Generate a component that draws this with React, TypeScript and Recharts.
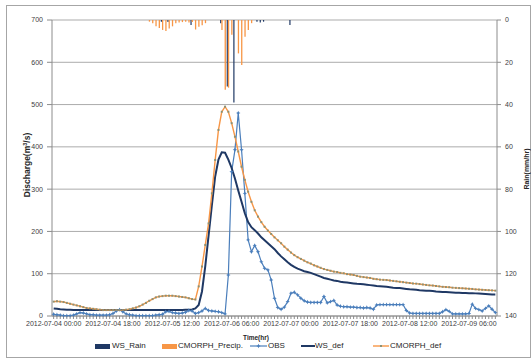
import React from 'react';
import { ComposedChart, Bar, Line, XAxis, YAxis, CartesianGrid } from 'recharts';

const font = '"Liberation Sans", Arial, sans-serif';

// one label every 18 hours, first hour is 2012-07-04 00:00
const tickLabels = [
  '2012-07-04 00:00', '2012-07-04 18:00', '2012-07-05 12:00', '2012-07-06 06:00',
  '2012-07-07 00:00', '2012-07-07 18:00', '2012-07-08 12:00', '2012-07-09 06:00',
];

// hourly series, rows of 18 hours
const obs = [
  4, 3, 2, 1, 1, 1, 2, 5, 8, 7, 5, 3, 3, 2, 2, 2, 2, 3,
  6, 12, 15, 10, 5, 3, 2, 1, 1, 1, 1, 1, 1, 2, 3, 4, 10, 11,
  8, 7, 6, 7, 9, 13, 12, 6, 8, 12, 18, 13, 12, 11, 10, 8, 5, 97,
  341, 393, 480, 393, 290, 180, 152, 167, 152, 128, 113, 109, 85, 42, 20, 16, 21, 34,
  54, 56, 50, 42, 36, 33, 32, 32, 32, 32, 46, 31, 34, 37, 26, 23, 22, 22,
  21, 21, 20, 20, 19, 20, 19, 16, 26, 27, 27, 27, 27, 27, 27, 27, 27, 13,
  7, 6, 6, 6, 6, 6, 6, 6, 6, 6, 10, 15, 11, 5, 5, 5, 5, 5,
  6, 28, 18, 15, 12, 18, 24, 16, 8,
];

const wsDef = [
  18, 17, 16, 15.5, 15, 14.5, 14, 14, 14, 14, 14, 14, 14, 14, 14, 14, 14, 14,
  14, 14, 14, 14, 14, 14, 14, 14, 14, 14, 14, 14, 14, 14, 14, 14, 14, 14,
  14, 14, 14, 14, 14.5, 15, 15.5, 18, 26, 58, 118, 190, 262, 330, 370, 387, 386, 370,
  350, 325, 297, 270, 243, 222, 210, 203, 195, 186, 179, 172, 165, 158, 149, 141, 134, 127,
  121, 116, 112, 109, 106, 104, 102, 99, 96, 93, 90, 88, 86, 84, 83, 81, 80, 79,
  78, 77, 76, 75.5, 75, 74, 73, 72, 71, 70.5, 70, 69, 68, 67, 66.5, 66, 65, 64,
  63, 62.5, 62, 61, 60.5, 60, 59.5, 59, 58, 57.5, 57, 56.5, 56, 55.5, 55, 55, 54.5, 54.5,
  54, 54, 53.5, 53, 52.5, 52, 51.5, 51, 51,
];

const cmorphDef = [
  34, 35, 34, 33, 31, 29, 27, 25, 23, 21, 19, 18, 17, 16, 15, 14, 14, 14,
  14, 14, 14, 14, 15, 16, 18, 20, 23, 27, 31, 36, 40, 44, 46, 47, 48, 48,
  48, 47, 46, 45, 44, 42, 40, 39, 70, 117, 168, 219, 290, 369, 440, 483, 495, 483,
  456, 424, 389, 353, 322, 294, 270, 250, 235, 222, 211, 202, 194, 186, 179, 172, 164, 157,
  150, 144, 139, 135, 131, 127, 124, 120, 117, 114, 111, 109, 107, 105, 104, 102, 101, 99,
  98, 97, 95, 93, 92, 91, 90, 88, 87, 86, 85.5, 85, 84, 83, 82, 81, 80, 79,
  78, 77, 76.5, 75.5, 74.5, 73.5, 72.5, 72, 71, 70, 69, 68.5, 68, 67, 66.5, 66, 65.5, 65,
  64.5, 64, 63, 62.5, 62, 61.5, 61, 60.5, 60,
];

// rain (mm/hr), right axis
const wsRain = [
  0, 0, 0, 0, 0, 0, 0, 0, 0, 0, 0, 0, 0, 0, 0, 0, 0, 0,
  0, 0, 0, 0, 0, 0, 0, 0, 0, 0, 0, 0, 0, 0, 0, 0.8, 0, 1,
  0, 0, 0, 0, 0, 0, 2.4, 0, 0, 0, 0, 0, 0, 0, 0, 1.5, 0, 31.5,
  0, 39, 0, 0, 0, 0, 0, 0, 0.8, 1.2, 0.8, 0, 0, 0, 0, 0, 0, 0,
  2.4, 0, 0, 0, 0, 0, 0, 0, 0, 0, 0, 0, 0, 0, 0, 0, 0, 0,
  0, 0, 0, 0, 0, 0, 0, 0, 0, 0, 0, 0, 0, 0, 0, 0, 0, 0,
  0, 0, 0, 0, 0, 0, 0, 0, 0, 0, 0, 0, 0, 0, 0, 0, 0, 0,
  0, 0, 0, 0, 0, 0, 0, 0, 0,
];

const cmorphRain = [
  0, 0, 0, 0, 0, 0, 0, 0, 0, 0, 0, 0, 0, 0, 0, 0, 0, 0,
  0, 0, 0, 0, 0, 0, 0, 0, 0, 0, 0, 0.8, 1.5, 3, 3.8, 4.7, 5.2, 4,
  3, 1.5, 1.2, 1, 0.8, 1.2, 1, 4.5, 3.2, 2.5, 1.5, 0, 0, 0, 0, 4.7, 33, 32,
  7, 0, 15.8, 21.3, 7.9, 4.7, 1.5, 0, 0, 0, 0, 0, 0, 0, 0, 0, 0, 0,
  0, 0, 0, 0, 0, 0, 0, 0, 0, 0, 0, 0, 0, 0, 0, 0, 0, 0,
  0, 0, 0, 0, 0, 0, 0, 0, 0, 0, 0, 0, 0, 0, 0, 0, 0, 0,
  0, 0, 0, 0, 0, 0, 0, 0, 0, 0, 0, 0, 0, 0, 0, 0, 0, 0,
  0, 0, 0, 0, 0, 0, 0, 0, 0,
];

const qTicks = [0, 100, 200, 300, 400, 500, 600, 700];
const rainTicks = [0, 20, 40, 60, 80, 100, 120, 140];

const data = obs.map((v, i) => ({
  hour: i,
  wsRain: wsRain[i],
  cmorphRain: cmorphRain[i],
  obs: v,
  wsDef: wsDef[i],
  cmorphDef: cmorphDef[i],
}));

const colors = {
  navy: '#1F3864',
  orange: '#F79646',
  blue: '#4A7EBB',
  marker: '#8E9172',
  axis: '#8C8C8C',
  grid: '#ABABAB',
  text: '#404040',
};

const TimeTick = (props: any) => {
  const { x, y, index } = props;
  if (index % 18 !== 0) return <g />;
  return (
    <text x={x} y={y} dy={5} textAnchor="middle" fontSize={7} fill={colors.text} fontFamily={font}>
      {tickLabels[index / 18]}
    </text>
  );
};

const starPath = (cx: number, cy: number, r: number) =>
  `M${cx},${cy - r}L${cx + 0.7},${cy - 0.7}L${cx + r},${cy}L${cx + 0.7},${cy + 0.7}` +
  `L${cx},${cy + r}L${cx - 0.7},${cy + 0.7}L${cx - r},${cy}L${cx - 0.7},${cy - 0.7}Z`;

const obsDot = (p: any) => {
  const { cx, cy, index } = p;
  if (cx == null || cy == null) return <g key={index} />;
  return <path key={index} d={starPath(cx, cy, 2.2)} fill={colors.blue} />;
};

const cmorphDot = (p: any) => {
  const { cx, cy, index } = p;
  if (cx == null || cy == null) return <g key={index} />;
  return <rect key={index} x={cx - 1} y={cy - 1} width={2} height={2} fill={colors.marker} />;
};

const legendText: React.CSSProperties = {
  position: 'absolute', top: 341, fontSize: 8, color: '#262626', fontFamily: font, lineHeight: '10px',
};

export default function App() {
  return (
    <div style={{ position: 'absolute', left: 0, top: 0, width: 531, height: 358, background: '#fff' }}>
      <div style={{ position: 'absolute', left: 6, top: 5, width: 523, height: 351, border: '1px solid #A6A6A6' }} />
      <div style={{ position: 'absolute', left: 0, top: 0 }}>
        <ComposedChart width={531} height={358} data={data} margin={{ top: 20, right: 0, bottom: 0, left: 0 }} barGap={0} barCategoryGap={0}>
          <CartesianGrid yAxisId="q" vertical={false} stroke={colors.grid} />
          <XAxis
            dataKey="hour"
            height={42}
            interval={0}
            tickSize={3}
            tickLine={{ stroke: colors.axis }}
            axisLine={{ stroke: colors.axis }}
            tick={<TimeTick />}
          />
          <YAxis
            yAxisId="q"
            width={52}
            domain={[0, 700]}
            ticks={qTicks}
            tickSize={5}
            tickMargin={4}
            tickLine={{ stroke: colors.axis }}
            axisLine={{ stroke: colors.axis }}
            tick={{ fontSize: 7, fill: colors.text, fontFamily: font }}
          />
          <YAxis
            yAxisId="rain"
            orientation="right"
            width={34}
            reversed
            domain={[0, 140]}
            ticks={rainTicks}
            tickSize={4}
            tickMargin={4}
            tickLine={{ stroke: colors.axis }}
            axisLine={{ stroke: colors.axis }}
            tick={{ fontSize: 7, fill: colors.text, fontFamily: font }}
          />
          <Bar yAxisId="rain" dataKey="wsRain" fill={colors.navy} barSize={1.2} isAnimationActive={false} />
          <Bar yAxisId="rain" dataKey="cmorphRain" fill={colors.orange} barSize={1.3} isAnimationActive={false} />
          <Line yAxisId="q" dataKey="obs" stroke={colors.blue} strokeWidth={1.2} dot={obsDot} activeDot={false} isAnimationActive={false} />
          <Line yAxisId="q" dataKey="wsDef" stroke={colors.navy} strokeWidth={2} dot={false} activeDot={false} isAnimationActive={false} />
          <Line yAxisId="q" dataKey="cmorphDef" stroke={colors.orange} strokeWidth={1.4} dot={cmorphDot} activeDot={false} isAnimationActive={false} />
        </ComposedChart>
      </div>

      {/* axis titles */}
      <div style={{ position: 'absolute', left: 27, top: 165, transform: 'translate(-50%,-50%) rotate(-90deg)', fontSize: 8.5, fontWeight: 'bold', fontFamily: font, color: '#262626', whiteSpace: 'nowrap' }}>
        Discharge(m<sup style={{ fontSize: 5.5 }}>3</sup>/s)
      </div>
      <div style={{ position: 'absolute', left: 526, top: 169, transform: 'translate(-50%,-50%) rotate(-90deg)', fontSize: 7, fontWeight: 'bold', fontFamily: font, color: '#262626', whiteSpace: 'nowrap' }}>
        Rain(mm/hr)
      </div>
      <div style={{ position: 'absolute', left: 256, top: 337, transform: 'translate(-50%,-50%)', fontSize: 6.5, fontWeight: 'bold', fontFamily: font, color: '#262626', whiteSpace: 'nowrap' }}>
        Time(hr)
      </div>

      {/* legend */}
      <div style={{ position: 'absolute', left: 95, top: 344, width: 15, height: 5, background: colors.navy }} />
      <div style={{ ...legendText, left: 112 }}>WS_Rain</div>
      <div style={{ position: 'absolute', left: 162, top: 344, width: 15, height: 5, background: colors.orange }} />
      <div style={{ ...legendText, left: 178 }}>CMORPH_Precip.</div>
      <svg style={{ position: 'absolute', left: 250, top: 341 }} width={17} height={10}>
        <line x1={0} y1={5} x2={17} y2={5} stroke={colors.blue} strokeWidth={1.2} />
        <path d={starPath(8.5, 5, 2.2)} fill={colors.blue} />
      </svg>
      <div style={{ ...legendText, left: 268 }}>OBS</div>
      <svg style={{ position: 'absolute', left: 301, top: 341 }} width={14} height={10}>
        <line x1={0} y1={5} x2={14} y2={5} stroke={colors.navy} strokeWidth={2} />
      </svg>
      <div style={{ ...legendText, left: 315 }}>WS_def</div>
      <svg style={{ position: 'absolute', left: 373, top: 341 }} width={16} height={10}>
        <line x1={0} y1={5} x2={16} y2={5} stroke={colors.orange} strokeWidth={1.4} />
        <rect x={7} y={4} width={2} height={2} fill={colors.marker} />
      </svg>
      <div style={{ ...legendText, left: 390 }}>CMORPH_def</div>
    </div>
  );
}
